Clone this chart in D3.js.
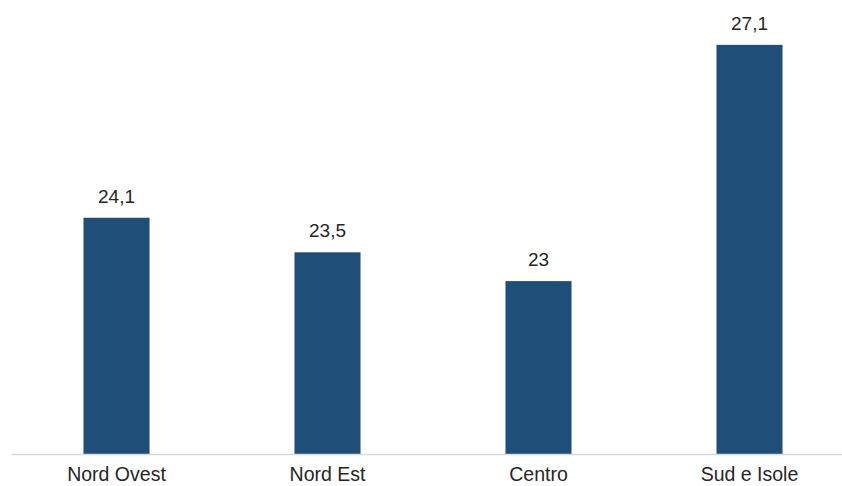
<!DOCTYPE html>
<html><head><meta charset="utf-8">
<script src="https://cdn.jsdelivr.net/npm/d3@7"></script>
<style>body{margin:0;background:#fff}svg{display:block}</style>
</head><body>
<svg id="c" width="842" height="486"></svg>
<script>
const categories = ["Nord Ovest", "Nord Est", "Centro", "Sud e Isole"];
const values = [24.1, 23.5, 23, 27.1];
const valueLabels = ["24,1", "23,5", "23", "27,1"];

const svg = d3.select("#c");
const font = "'Liberation Sans', Arial, sans-serif";
const x = d3.scaleBand().domain(categories).range([11, 855]).paddingInner(0.687).paddingOuter(0.3435);
const y = d3.scaleLinear().domain([20, 28]).range([454, -7]);

svg.selectAll("rect.bar").data(values).join("rect")
  .attr("class","bar")
  .attr("x", (d,i) => x(categories[i]))
  .attr("width", x.bandwidth())
  .attr("y", d => y(d))
  .attr("height", d => y(20) - y(d))
  .attr("fill", "#1f4e79");

svg.selectAll("text.val").data(values).join("text")
  .attr("class","val")
  .attr("x", (d,i) => x(categories[i]) + x.bandwidth()/2)
  .attr("y", d => y(d) - 15)
  .attr("text-anchor","middle")
  .attr("font-family", font).attr("font-size", 19).attr("fill","#262626")
  .text((d,i) => valueLabels[i]);

const axis = d3.axisBottom(x).tickSize(0).tickPadding(0);
const g = svg.append("g").attr("transform","translate(0,454)").call(axis);
g.select(".domain").attr("stroke","#d9d9d9").attr("stroke-width",1.5);
g.selectAll("text").attr("font-family", font).attr("font-size", 19.5).attr("fill","#262626")
  .attr("dy", null).attr("y", 27);
</script>
</body></html>
